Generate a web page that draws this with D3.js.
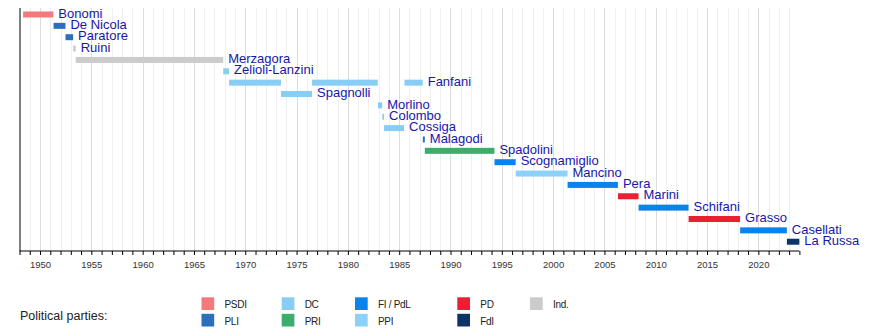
<!DOCTYPE html>
<html>
<head>
<meta charset="utf-8">
<script src="https://cdn.jsdelivr.net/npm/d3@7"></script>
<style>
  html, body { margin: 0; padding: 0; background: #fff; }
  svg { display: block; font-family: "Liberation Sans", Arial, sans-serif; }
</style>
</head>
<body>
<svg id="chart" width="880" height="330"></svg>
<script>
// ---- data ----
const presidents = ["Bonomi","De Nicola","Paratore","Ruini","Merzagora","Zelioli-Lanzini","Fanfani",
  "Spagnolli","Morlino","Colombo","Cossiga","Malagodi","Spadolini","Scognamiglio","Mancino","Pera",
  "Marini","Schifani","Grasso","Casellati","La Russa"];

const termPerson = ["Bonomi","De Nicola","Paratore","Ruini","Merzagora","Zelioli-Lanzini","Fanfani",
  "Spagnolli","Fanfani","Morlino","Colombo","Cossiga","Fanfani","Malagodi","Spadolini","Scognamiglio",
  "Mancino","Pera","Marini","Schifani","Grasso","Casellati","La Russa"];
const termParty = ["PSDI","PLI","PLI","Ind.","Ind.","DC","DC","DC","DC","DC","DC","DC","DC","PLI","PRI",
  "FI / PdL","PPI","FI / PdL","PD","FI / PdL","PD","FI / PdL","FdI"];
const termStart = ["1948-05-08","1951-04-28","1952-06-26","1953-03-25","1953-06-25","1967-11-08","1968-06-05",
  "1973-06-27","1976-07-05","1982-12-09","1983-05-11","1983-07-12","1985-07-09","1987-04-22","1987-07-02",
  "1994-04-16","1996-05-09","2001-05-30","2006-04-29","2008-04-29","2013-03-16","2018-03-24","2022-10-13"];
const termEnd = ["1951-04-20","1952-06-24","1953-03-24","1953-06-24","1967-11-07","1968-06-04","1973-06-26",
  "1976-07-04","1982-12-01","1983-05-06","1983-07-11","1985-06-24","1987-04-17","1987-07-01","1994-04-14",
  "1996-05-08","2001-05-29","2006-04-27","2008-04-28","2013-03-14","2018-03-22","2022-10-12","2023-12-31"];

const partyNames = ["PSDI","PLI","DC","PRI","FI / PdL","PPI","PD","FdI","Ind."];
const partyColors = ["#f4797b","#2b6fbd","#88cdf6","#3dad6e","#0a84ec","#8dd0f8","#e8202f","#0c3565","#cbcbcb"];

const yearDomain = [1948, 2024];
const tickYears = [1950,1955,1960,1965,1970,1975,1980,1985,1990,1995,2000,2005,2010,2015,2020];

// ---- helpers ----
function decYear(s) {
  const d = new Date(s + "T00:00:00Z");
  const y = d.getUTCFullYear();
  const a = Date.UTC(y, 0, 1), b = Date.UTC(y + 1, 0, 1);
  return y + (d.getTime() - a) / (b - a);
}
const color = d3.scaleOrdinal().domain(partyNames).range(partyColors);

const terms = termPerson.map((p, i) => ({
  person: p, party: termParty[i], start: decYear(termStart[i]), end: decYear(termEnd[i])
}));

const svg = d3.select("#chart");
const axisY = 251;
const x = d3.scaleLinear().domain(yearDomain).range([19.5, 799.4]);
const y = d3.scaleBand().domain(presidents).range([8.8, 247.4]);
const barH = 6;

// grid lines
const allYears = d3.range(yearDomain[0] + 1, yearDomain[1]);
svg.append("g").selectAll("line").data(allYears).join("line")
  .attr("x1", d => Math.round(x(d)) + 0.5).attr("x2", d => Math.round(x(d)) + 0.5)
  .attr("y1", 8).attr("y2", axisY)
  .attr("stroke", d => d % 5 === 0 ? "#dcdcdc" : "#efefef")
  .attr("stroke-width", 1);

// left axis line
svg.append("line").attr("x1", 20).attr("x2", 20).attr("y1", 8).attr("y2", axisY)
  .attr("stroke", "#000").attr("stroke-width", 1);

// bars
svg.append("g").selectAll("rect").data(terms).join("rect")
  .attr("x", d => x(d.start))
  .attr("width", d => Math.max(1.5, x(d.end) - x(d.start)))
  .attr("y", d => y(d.person) + y.bandwidth() / 2 - barH / 2)
  .attr("height", barH)
  .attr("fill", d => color(d.party));

// labels after last term of each person
const lastEnd = d3.rollup(terms, v => d3.max(v, t => t.end), t => t.person);
svg.append("g").selectAll("text").data(presidents).join("text")
  .attr("x", d => x(lastEnd.get(d)) + 5)
  .attr("y", d => y(d) + y.bandwidth() / 2 + 3.2)
  .attr("font-size", 13)
  .attr("fill", "#1717a8")
  .text(d => d);

// bottom axis
const axis = d3.axisBottom(x)
  .tickValues(d3.range(yearDomain[0], yearDomain[1] + 1))
  .tickSize(4)
  .tickFormat(d => tickYears.includes(d) ? d : "");
const ga = svg.append("g").attr("transform", `translate(0,${axisY})`).call(axis);
ga.select(".domain").attr("stroke", "#000").attr("d", `M${x(yearDomain[0])},0H${x(yearDomain[1])}`);
ga.selectAll(".tick line").attr("stroke", "#000");
ga.selectAll(".tick text").attr("font-size", 9.5).attr("fill", "#333")
  .attr("font-family", "Liberation Sans, Arial, sans-serif").attr("dy", "1.05em");

// legend
svg.append("text").attr("x", 20).attr("y", 319.5).attr("font-size", 12.5).attr("fill", "#222")
  .text("Political parties:");
const colX = [201.5, 281.7, 355, 457.3, 530];
const leg = svg.append("g").selectAll("g").data(partyNames).join("g")
  .attr("transform", (d, i) => `translate(${colX[Math.floor(i / 2)]},${i % 2 === 0 ? 297.3 : 313.8})`);
leg.append("rect").attr("width", 12.7).attr("height", 12.7).attr("fill", d => color(d));
leg.append("text").attr("x", 23).attr("y", 11.2).attr("font-size", 10).attr("fill", "#222")
  .attr("letter-spacing", -0.3).text(d => d);
</script>
</body>
</html>
